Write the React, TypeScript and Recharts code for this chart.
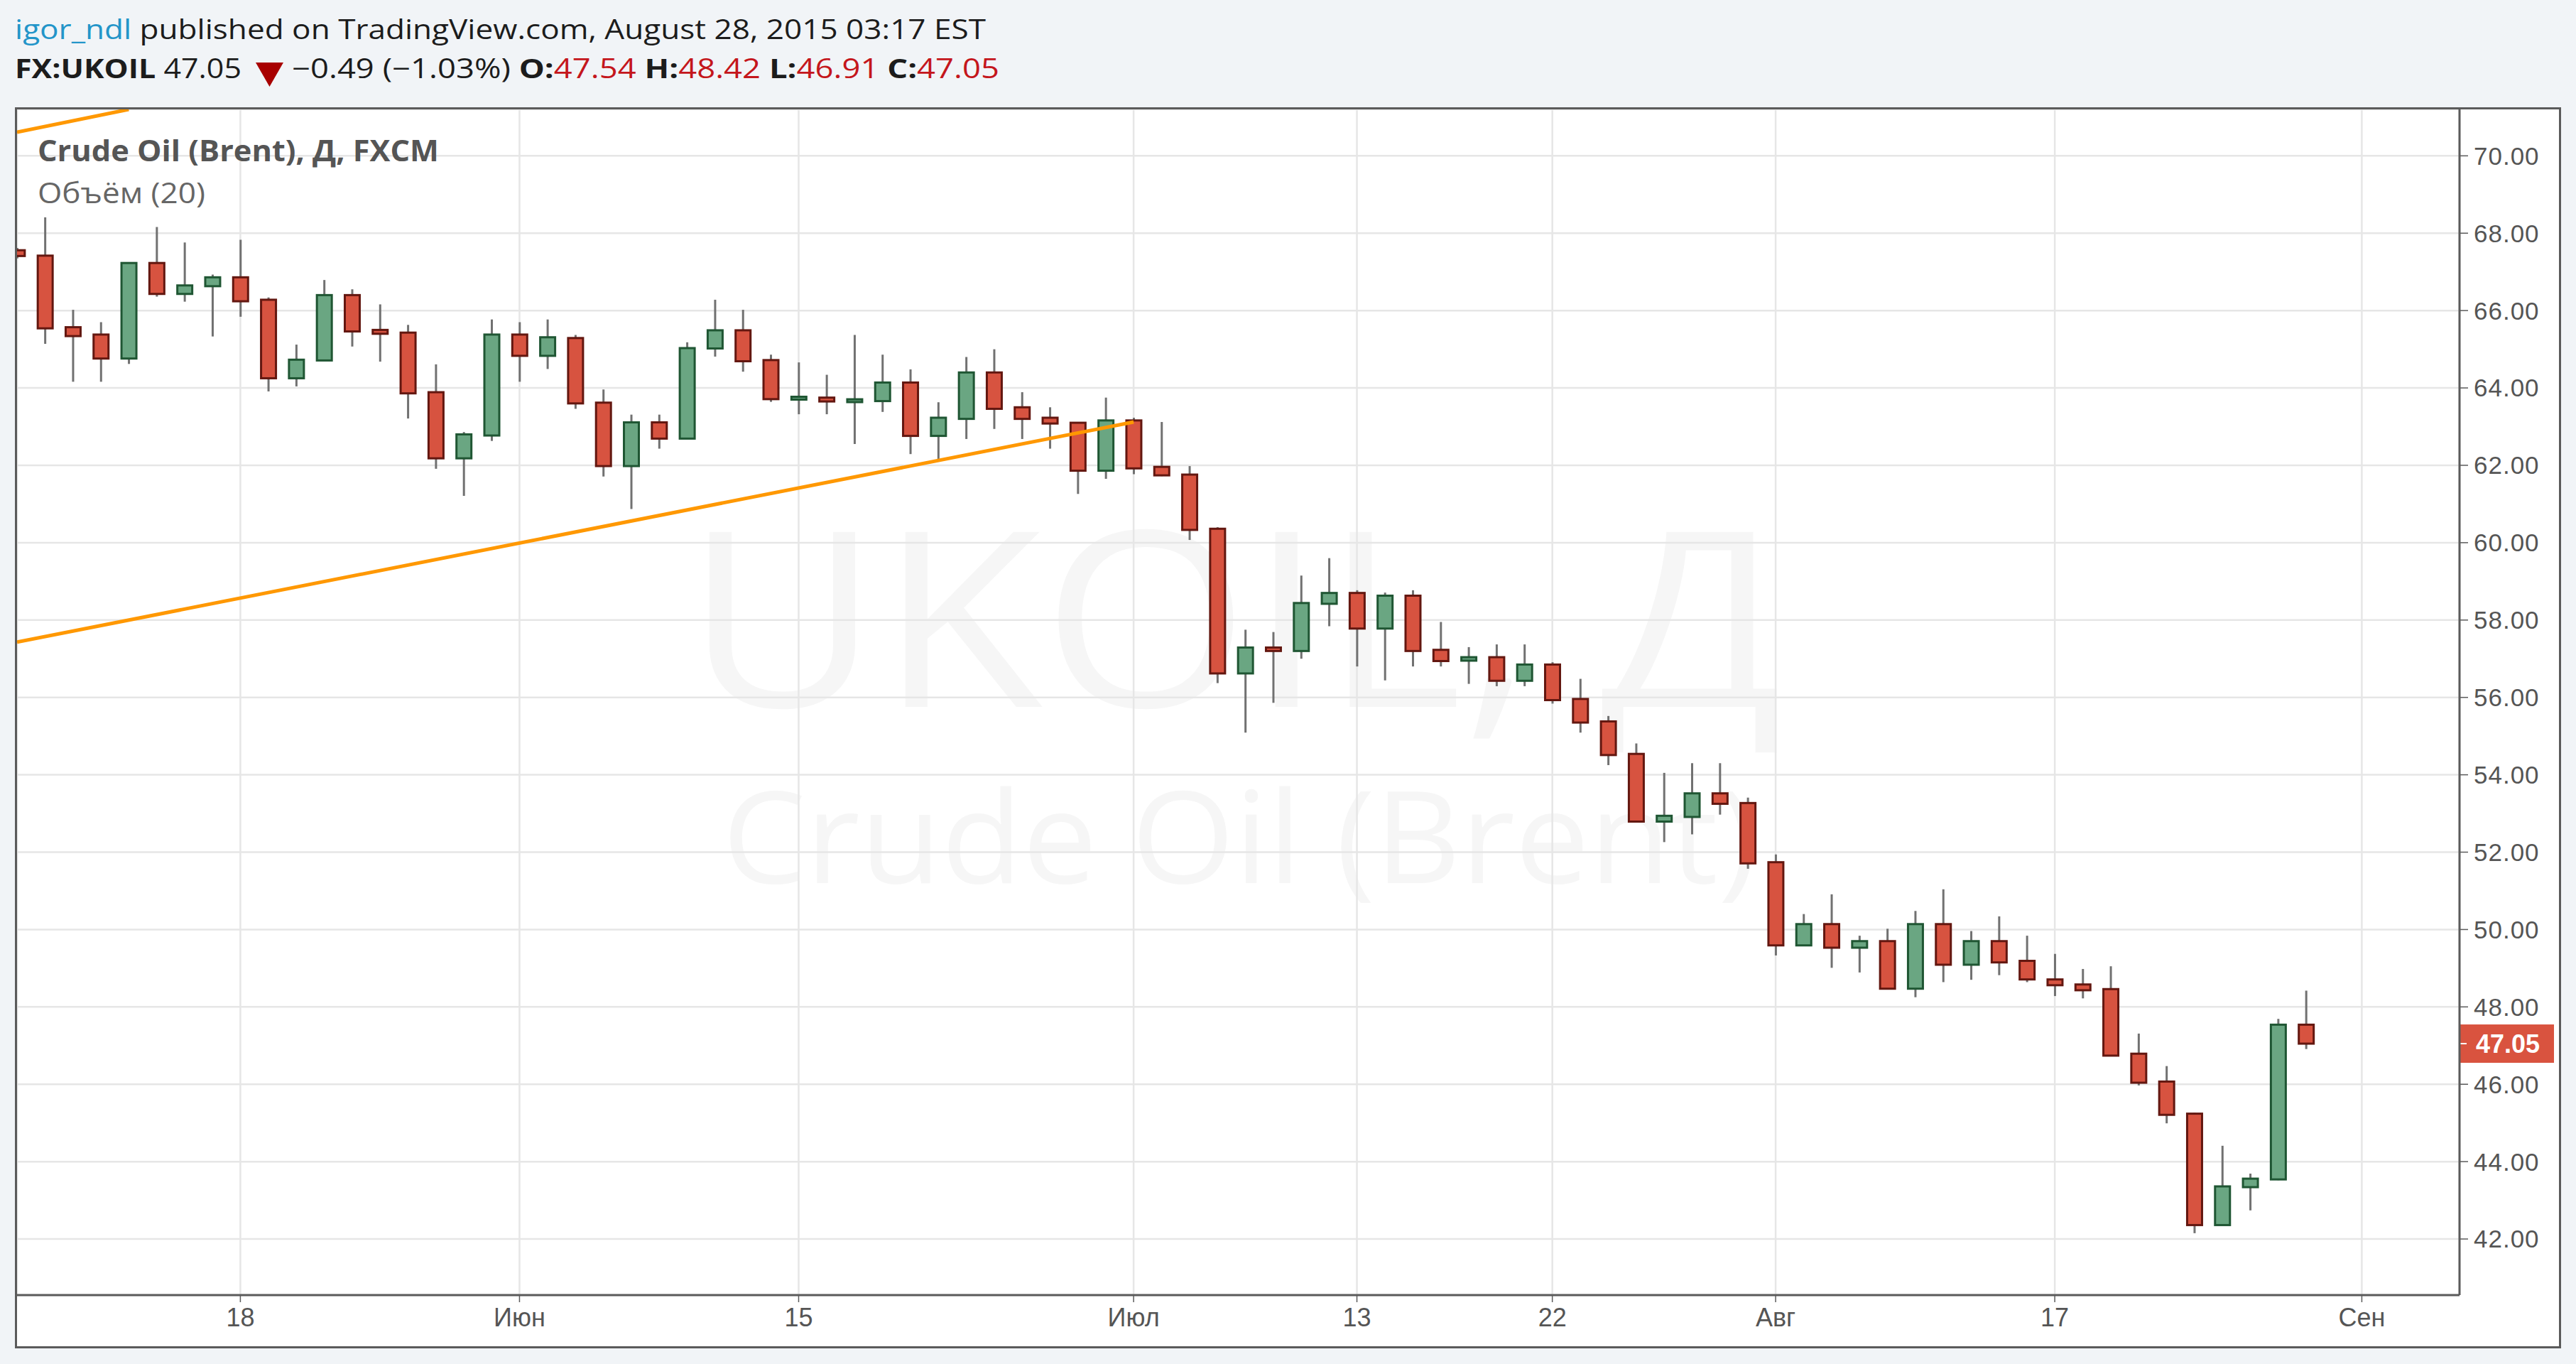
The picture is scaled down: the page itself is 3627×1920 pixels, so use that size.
import { Bar, CartesianGrid, ComposedChart, ReferenceLine, XAxis, YAxis } from "recharts";

// FX:UKOIL daily candles, May 6 - Aug 28 2015 (trading days)
const dates = [
  '05-06', '05-07', '05-08', '05-11', '05-12', '05-13', '05-14', '05-15',
  '05-18', '05-19', '05-20', '05-21', '05-22', '05-25', '05-26', '05-27', '05-28', '05-29',
  '06-01', '06-02', '06-03', '06-04', '06-05', '06-08', '06-09', '06-10', '06-11', '06-12',
  '06-15', '06-16', '06-17', '06-18', '06-19', '06-22', '06-23', '06-24', '06-25', '06-26',
  '06-29', '06-30', '07-01', '07-02', '07-03', '07-06', '07-07', '07-08', '07-09', '07-10',
  '07-13', '07-14', '07-15', '07-16', '07-17', '07-20', '07-21', '07-22', '07-23', '07-24',
  '07-27', '07-28', '07-29', '07-30', '07-31', '08-03', '08-04', '08-05', '08-06', '08-07',
  '08-10', '08-11', '08-12', '08-13', '08-14', '08-17', '08-18', '08-19', '08-20', '08-21',
  '08-24', '08-25', '08-26', '08-27', '08-28',
];
const opens = [
  67.56, 67.42, 65.57, 65.38, 64.76, 67.23, 66.43, 66.63,
  66.86, 66.28, 64.25, 64.71, 66.40, 65.50, 65.43, 63.89, 62.18, 62.77,
  65.38, 64.83, 65.29, 63.62, 61.98, 63.11, 62.69, 65.02, 65.49, 64.72,
  63.73, 63.75, 63.66, 63.66, 64.14, 62.76, 63.20, 64.40, 63.50, 63.23,
  63.10, 61.86, 63.16, 61.96, 61.76, 60.36, 56.62, 57.29, 57.20, 58.42,
  58.70, 57.78, 58.63, 57.23, 56.95, 57.04, 56.43, 56.85, 55.96, 55.38,
  54.54, 52.79, 52.91, 53.52, 53.27, 51.74, 49.59, 50.14, 49.53, 49.70,
  48.47, 50.14, 49.09, 49.70, 49.19, 48.71, 48.58, 48.46, 46.79, 46.07,
  45.24, 42.36, 43.34, 43.54, 47.54,
];
const highs = [
  67.62, 68.41, 66.02, 65.70, 67.25, 68.16, 67.76, 66.93,
  67.83, 66.34, 65.12, 66.79, 66.55, 66.16, 65.63, 64.61, 62.86, 65.77,
  65.70, 65.77, 65.37, 63.96, 63.31, 63.31, 65.18, 66.28, 66.02, 64.86,
  64.66, 64.34, 65.37, 64.86, 64.48, 63.63, 64.80, 65.00, 63.89, 63.50,
  63.12, 63.75, 63.23, 63.12, 61.98, 60.40, 57.75, 57.69, 59.15, 59.60,
  58.77, 58.71, 58.77, 57.95, 57.30, 57.37, 57.37, 56.91, 56.48, 55.52,
  54.81, 54.05, 54.30, 54.30, 53.41, 51.94, 50.40, 50.91, 49.84, 50.02,
  50.48, 51.04, 49.96, 50.34, 49.84, 49.37, 48.98, 49.05, 47.31, 46.47,
  45.26, 44.41, 43.69, 47.69, 48.42,
];
const lows = [
  67.35, 65.14, 64.16, 64.16, 64.62, 66.36, 66.23, 65.33,
  65.84, 63.91, 64.04, 64.70, 65.07, 64.68, 63.21, 61.91, 61.21, 62.63,
  64.16, 64.49, 63.46, 61.71, 60.87, 62.43, 62.68, 64.81, 64.42, 63.64,
  63.32, 63.32, 62.55, 63.38, 62.29, 62.15, 62.68, 62.94, 62.68, 62.43,
  61.26, 61.65, 61.77, 61.72, 60.07, 56.37, 55.09, 55.86, 57.00, 57.84,
  56.80, 56.44, 56.80, 56.80, 56.35, 56.29, 56.29, 55.84, 55.09, 54.25,
  52.78, 52.26, 52.46, 52.97, 51.57, 49.33, 49.58, 49.01, 48.89, 48.46,
  48.25, 48.64, 48.70, 48.82, 48.64, 48.28, 48.22, 46.72, 45.97, 44.99,
  42.15, 42.35, 42.74, 43.52, 46.91,
];
const closes = [
  67.41, 65.54, 65.34, 64.76, 67.23, 66.43, 66.65, 66.86,
  66.24, 64.25, 64.73, 66.40, 65.46, 65.40, 63.86, 62.18, 62.80, 65.38,
  64.83, 65.31, 63.60, 61.98, 63.11, 62.69, 65.03, 65.49, 64.69, 63.71,
  63.74, 63.65, 63.68, 64.14, 62.76, 63.23, 64.40, 63.46, 63.20, 63.08,
  61.86, 63.16, 61.92, 61.74, 60.33, 56.62, 57.29, 57.20, 58.44, 58.70,
  57.78, 58.63, 57.20, 56.94, 57.04, 56.43, 56.85, 55.93, 55.35, 54.51,
  52.79, 52.94, 53.52, 53.25, 51.71, 49.59, 50.14, 49.53, 49.70, 48.47,
  50.14, 49.09, 49.70, 49.15, 48.71, 48.56, 48.43, 46.74, 46.04, 45.21,
  42.36, 43.36, 43.56, 47.54, 47.05,
];

// empty days to the right of the last candle
const futureDates = ['08-31', '09-01', '09-02', '09-03', '09-04'];
const axisDates = [...dates, ...futureDates];

const tickDates = ['05-18', '06-01', '06-15', '07-01', '07-13', '07-22', '08-03', '08-17', '09-01'];
const tickLabels = ['18', 'Июн', '15', 'Июл', '13', '22', 'Авг', '17', 'Сен'];
const priceTicks = [42, 44, 46, 48, 50, 52, 54, 56, 58, 60, 62, 64, 66, 68, 70];

// drawn trend lines: [date, price]
const supportLine = [['05-06', 57.43], ['07-01', 63.12]];
const channelLine = [['05-06', 70.61], ['05-12', 71.2]];

const lastPrice = 47.05;

const data = dates.map((d, i) => ({
  i: axisDates.indexOf(d),
  date: d,
  o: opens[i],
  h: highs[i],
  l: lows[i],
  c: closes[i],
  range: [lows[i], highs[i]],
}));

const tickIdx = tickDates.map((d) => axisDates.indexOf(d));
const toSegment = (pts: Array<Array<any>>) =>
  pts.map(([d, v]) => ({ x: axisDates.indexOf(d), y: v }));

const RED = '#d75340';
const RED_EDGE = '#631710';
const GREEN = '#6aa682';
const GREEN_EDGE = '#1f5633';
const WICK = '#717171';
const AXIS = '#5b5b5b';
const LABEL = '#555555';
const FONT = "'Open Sans', sans-serif";
const AXIS_FONT = "'Liberation Sans', Arial, sans-serif";

const Candle = (props: any) => {
  const { x, y, width, height, payload } = props;
  if (x == null || y == null || !payload) return null;
  const { o, h, l, c } = payload;
  const top = Math.min(y, y + height);
  const span = Math.abs(height);
  const k = h > l ? span / (h - l) : 0;
  const cx = x + width / 2;
  const yo = top + (h - o) * k;
  const yc = top + (h - c) * k;
  let bodyTop = Math.min(yo, yc);
  let bodyH = Math.abs(yo - yc);
  if (bodyH < 4) {
    bodyTop -= (4 - bodyH) / 2;
    bodyH = 4;
  }
  const up = c >= o;
  return (
    <g>
      <line x1={cx} x2={cx} y1={top} y2={top + span} stroke={WICK} strokeWidth={3} />
      <rect
        x={cx - 10.5}
        y={bodyTop}
        width={21}
        height={bodyH}
        fill={up ? GREEN : RED}
        stroke={up ? GREEN_EDGE : RED_EDGE}
        strokeWidth={3}
      />
    </g>
  );
};

const PriceTag = (props: any) => {
  const { viewBox } = props;
  if (!viewBox) return null;
  const x = viewBox.x + viewBox.width;
  const y = viewBox.y;
  return (
    <g>
      <rect x={x} y={y - 27} width={133} height={54} fill="#d9533f" />
      <line x1={x} x2={x + 10} y1={y} y2={y} stroke="#ffffff" strokeWidth={2} />
      <text
        x={x + 68}
        y={y + 13}
        textAnchor="middle"
        fill="#ffffff"
        fontSize={36}
        fontWeight="bold"
        fontFamily={AXIS_FONT}
      >
        {lastPrice.toFixed(2)}
      </text>
    </g>
  );
};

const App = () => {
  return (
    <div
      style={{
        position: 'absolute',
        left: 0,
        top: 0,
        width: 3627,
        height: 1920,
        background: '#f1f4f7',
        overflow: 'hidden',
      }}
    >
      <svg width={3627} height={150} style={{ position: 'absolute', left: 0, top: 0 }}>
        <text
          x={21}
          y={55}
          fontSize={38}
          fontFamily={FONT}
          textLength={1367}
          lengthAdjust="spacingAndGlyphs"
          fill="#1c1c1c"
        >
          <tspan fill="#2395c9">igor_ndl</tspan>
          <tspan>{' published on TradingView.com, August 28, 2015 03:17 EST'}</tspan>
        </text>
        <text
          x={21}
          y={110}
          fontSize={38}
          fontFamily={FONT}
          textLength={319}
          lengthAdjust="spacingAndGlyphs"
          fill="#1c1c1c"
        >
          <tspan fontWeight="bold">FX:UKOIL</tspan>
          <tspan>{' 47.05'}</tspan>
        </text>
        <polygon points="360,88 399,88 379.5,122" fill="#a80000" />
        <text
          x={411}
          y={110}
          fontSize={38}
          fontFamily={FONT}
          textLength={996}
          lengthAdjust="spacingAndGlyphs"
          fill="#1c1c1c"
        >
          <tspan>{'−0.49 (−1.03%) '}</tspan>
          <tspan fontWeight="bold">O:</tspan>
          <tspan fill="#c4161c">47.54</tspan>
          <tspan fontWeight="bold">{' H:'}</tspan>
          <tspan fill="#c4161c">48.42</tspan>
          <tspan fontWeight="bold">{' L:'}</tspan>
          <tspan fill="#c4161c">46.91</tspan>
          <tspan fontWeight="bold">{' C:'}</tspan>
          <tspan fill="#c4161c">47.05</tspan>
        </text>
      </svg>

      <div
        style={{
          position: 'absolute',
          left: 21,
          top: 151,
          width: 3585,
          height: 1747,
          border: `3px solid ${AXIS}`,
          boxSizing: 'border-box',
          background: '#ffffff',
        }}
      />

      {/* watermark sits under the grid */}
      <svg width={3627} height={1920} style={{ position: 'absolute', left: 0, top: 0 }}>
        <text
          x={965}
          y={995}
          fontSize={345}
          fontFamily={FONT}
          fill="#f6f6f6"
          textLength={1545}
          lengthAdjust="spacingAndGlyphs"
        >
          UKOIL, Д
        </text>
        <text
          x={1017}
          y={1243}
          fontSize={180}
          fontFamily={FONT}
          fill="#f6f6f6"
          textLength={1457}
          lengthAdjust="spacingAndGlyphs"
        >
          Crude Oil (Brent)
        </text>
      </svg>

      <div style={{ position: 'absolute', left: 24, top: 154 }}>
        <ComposedChart
          width={3579}
          height={1741}
          data={data}
          margin={{ top: 0, right: 0, bottom: 0, left: 0 }}
        >
          <CartesianGrid stroke="#e6e6e6" strokeWidth={2.5} />
          <XAxis
            dataKey="i"
            type="number"
            domain={[0, 87.5]}
            allowDataOverflow
            ticks={tickIdx}
            tickFormatter={(v: number) => tickLabels[tickIdx.indexOf(v)] ?? ''}
            height={72}
            tickSize={10}
            tickMargin={8}
            axisLine={{ stroke: AXIS, strokeWidth: 3 }}
            tickLine={{ stroke: AXIS, strokeWidth: 1.5 }}
            tick={{ fill: LABEL, fontSize: 36, fontFamily: AXIS_FONT }}
            interval={0}
          />
          <YAxis
            orientation="right"
            type="number"
            domain={[40.55, 71.2]}
            allowDataOverflow
            ticks={priceTicks}
            tickFormatter={(v: number) => v.toFixed(2)}
            width={140}
            tickSize={12}
            tickMargin={8}
            axisLine={{ stroke: AXIS, strokeWidth: 3 }}
            tickLine={{ stroke: AXIS, strokeWidth: 1.5 }}
            tick={{ fill: LABEL, fontSize: 35, fontFamily: AXIS_FONT, letterSpacing: 1 }}
            interval={0}
          />
          <ReferenceLine
            segment={toSegment(channelLine)}
            stroke="#ff9800"
            strokeWidth={5}
            ifOverflow="hidden"
          />
          <ReferenceLine
            segment={toSegment(supportLine)}
            stroke="#ff9800"
            strokeWidth={5}
            ifOverflow="hidden"
          />
          <Bar
            dataKey="range"
            barSize={24}
            shape={<Candle />}
            isAnimationActive={false}
          />
          <ReferenceLine
            y={lastPrice}
            stroke="none"
            ifOverflow="visible"
            label={<PriceTag />}
          />
        </ComposedChart>
      </div>

      {/* series legend drawn above the grid */}
      <svg
        width={800}
        height={320}
        style={{ position: 'absolute', left: 0, top: 0, pointerEvents: 'none' }}
      >
        <text
          x={53}
          y={227}
          fontSize={41}
          fontWeight="bold"
          fontFamily={FONT}
          fill="#555555"
          textLength={565}
          lengthAdjust="spacingAndGlyphs"
        >
          Crude Oil (Brent), Д, FXCM
        </text>
        <text
          x={53}
          y={286}
          fontSize={41}
          fontFamily={FONT}
          fill="#666666"
          textLength={236}
          lengthAdjust="spacingAndGlyphs"
        >
          Объём (20)
        </text>
      </svg>
    </div>
  );
};

export default App;
